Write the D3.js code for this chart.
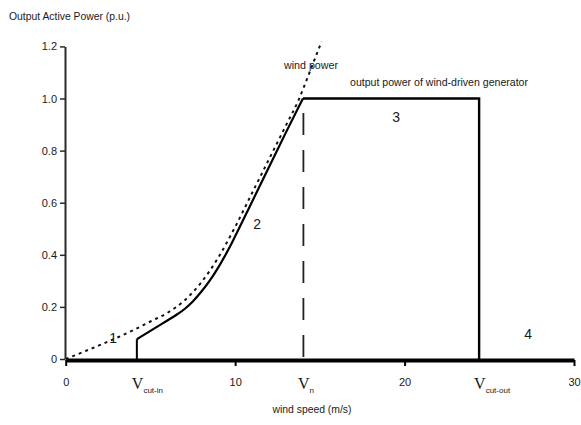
<!DOCTYPE html>
<html>
<head>
<meta charset="utf-8">
<script src="https://cdn.jsdelivr.net/npm/d3@7/dist/d3.min.js"></script>
<style>
  html, body { margin: 0; padding: 0; background: #fff; }
  svg { display: block; }
  text { font-family: "Liberation Sans Narrow", "Liberation Sans", Arial, sans-serif; fill: #1a1a1a; }
</style>
</head>
<body>
<svg id="chart" width="581" height="425"></svg>
<script>
// ---- data ----
const xTicks = [0, 10, 20, 30];
const yTicks = [0, 0.2, 0.4, 0.6, 0.8, 1.0, 1.2];
const yTickLabels = ["0", "0.2", "0.4", "0.6", "0.8", "1.0", "1.2"];

const windSpeed = [0, 1, 2, 3, 4, 5, 6, 7, 8, 9, 10, 11, 12, 13, 13.75, 14.2, 14.6, 15.1];
const windPower = [0, 0.026, 0.053, 0.081, 0.111, 0.144, 0.177, 0.224, 0.294, 0.389, 0.507, 0.637, 0.767, 0.897, 0.995, 1.068, 1.135, 1.218];

const outSpeed = [4.2, 5, 6, 6.5, 7, 7.5, 8, 8.5, 9, 9.5, 10, 11, 12, 13, 14];
const outPower = [0.076, 0.108, 0.148, 0.168, 0.191, 0.221, 0.258, 0.301, 0.351, 0.408, 0.471, 0.604, 0.737, 0.870, 1.0];

const vCutIn = 4.2, vRated = 14.0, vCutOut = 24.4, ratedPower = 1.0;
const ratedLineTop = 0.944;

const regionLabels = ["1", "2", "3", "4"];
const regionPos = [[2.8, 0.06], [11.3, 0.50], [19.5, 0.91], [27.3, 0.075]];

// ---- scales ----
const svg = d3.select("#chart");
const x = d3.scaleLinear().domain([0, 30]).range([65.7, 574]);
const y = d3.scaleLinear().domain([0, 1.2]).range([359, 46.4]);

// ---- axes ----
const yAxis = d3.axisLeft(y).tickValues(yTicks).tickFormat((d, i) => yTickLabels[i]).tickSize(5).tickSizeOuter(0).tickPadding(3);
const gy = svg.append("g").attr("transform", "translate(65,0)").call(yAxis);
gy.select(".domain").attr("stroke", "#2a2a2a").attr("stroke-width", 2);
gy.selectAll(".tick line").attr("stroke", "#2a2a2a").attr("stroke-width", 1.5);
gy.selectAll(".tick text").style("font-size", "11px").attr("fill", "#1a1a1a");

const xAxis = d3.axisBottom(x).tickValues(xTicks).tickFormat(d3.format("d")).tickSize(6).tickSizeOuter(0).tickPadding(12);
const gx = svg.append("g").attr("transform", "translate(0,360)").call(xAxis);
gx.select(".domain").attr("stroke", "#000").attr("stroke-width", 4);
gx.selectAll(".tick line").attr("stroke", "#000").attr("stroke-width", 2);
gx.selectAll(".tick text").style("font-size", "11px").attr("fill", "#1a1a1a");

// ---- wind power (dotted) ----
const windData = windSpeed.map((v, i) => [v, windPower[i]]);
svg.append("path")
  .datum(windData)
  .attr("fill", "none")
  .attr("stroke", "#111")
  .attr("stroke-width", 2)
  .attr("stroke-dasharray", "3,4")
  .attr("d", d3.line().x(d => x(d[0])).y(d => y(d[1])).curve(d3.curveMonotoneX));

// ---- output power (solid) ----
const outData = outSpeed.map((v, i) => [v, outPower[i]]);
svg.append("path")
  .datum(outData)
  .attr("fill", "none")
  .attr("stroke", "#000")
  .attr("stroke-width", 2.2)
  .attr("d", d3.line().x(d => x(d[0])).y(d => y(d[1])).curve(d3.curveMonotoneX));

// cut-in vertical
svg.append("path")
  .datum([[vCutIn, 0], [vCutIn, outPower[0]]])
  .attr("fill", "none").attr("stroke", "#000").attr("stroke-width", 2)
  .attr("d", d3.line().x(d => x(d[0])).y(d => y(d[1])));

// rated flat + cut-out drop
svg.append("path")
  .datum([[vRated, ratedPower], [vCutOut, ratedPower], [vCutOut, 0]])
  .attr("fill", "none").attr("stroke", "#000").attr("stroke-width", 2.4)
  .attr("stroke-linejoin", "miter")
  .attr("d", d3.line().x(d => x(d[0])).y(d => y(d[1])));

// rated speed dashed line
svg.append("line")
  .attr("x1", x(vRated) + 0.5).attr("x2", x(vRated) + 0.5)
  .attr("y1", y(ratedLineTop)).attr("y2", y(0))
  .attr("stroke", "#222").attr("stroke-width", 1.8)
  .attr("stroke-dasharray", "22,15");

// ---- text ----
svg.append("text").attr("x", 9).attr("y", 20)
  .attr("textLength", 121).attr("lengthAdjust", "spacingAndGlyphs")
  .style("font-size", "11px").text("Output Active Power (p.u.)");

svg.append("text").attr("x", 312).attr("y", 413).attr("text-anchor", "middle")
  .attr("textLength", 79).attr("lengthAdjust", "spacingAndGlyphs")
  .style("font-size", "11px").text("wind speed (m/s)");

svg.append("text").attr("x", 284).attr("y", 69)
  .attr("textLength", 54).attr("lengthAdjust", "spacingAndGlyphs")
  .style("font-size", "11px").text("wind power");

svg.append("text").attr("x", 350).attr("y", 86)
  .attr("textLength", 178).attr("lengthAdjust", "spacingAndGlyphs")
  .style("font-size", "11px").text("output power of wind-driven generator");

svg.selectAll("text.region").data(regionLabels).enter().append("text")
  .attr("class", "region")
  .attr("x", (d, i) => x(regionPos[i][0]))
  .attr("y", (d, i) => y(regionPos[i][1]))
  .attr("text-anchor", "middle")
  .style("font-size", "14px")
  .text(d => d);

// speed markers under axis
const speedMarks = [[vCutIn, "cut-in"], [vRated, "n"], [vCutOut, "cut-out"]];
speedMarks.forEach(([v, sub]) => {
  const t = svg.append("text")
    .attr("x", x(v) - 5).attr("y", 389)
    .style("font-size", "16px")
    .style("font-family", "'Liberation Serif', 'DejaVu Serif', serif");
  t.append("tspan").text("V");
  t.append("tspan").attr("dy", 4).style("font-size", "8px")
    .style("font-family", "'Liberation Sans Narrow', 'Liberation Sans', sans-serif")
    .text(sub);
});
</script>
</body>
</html>
